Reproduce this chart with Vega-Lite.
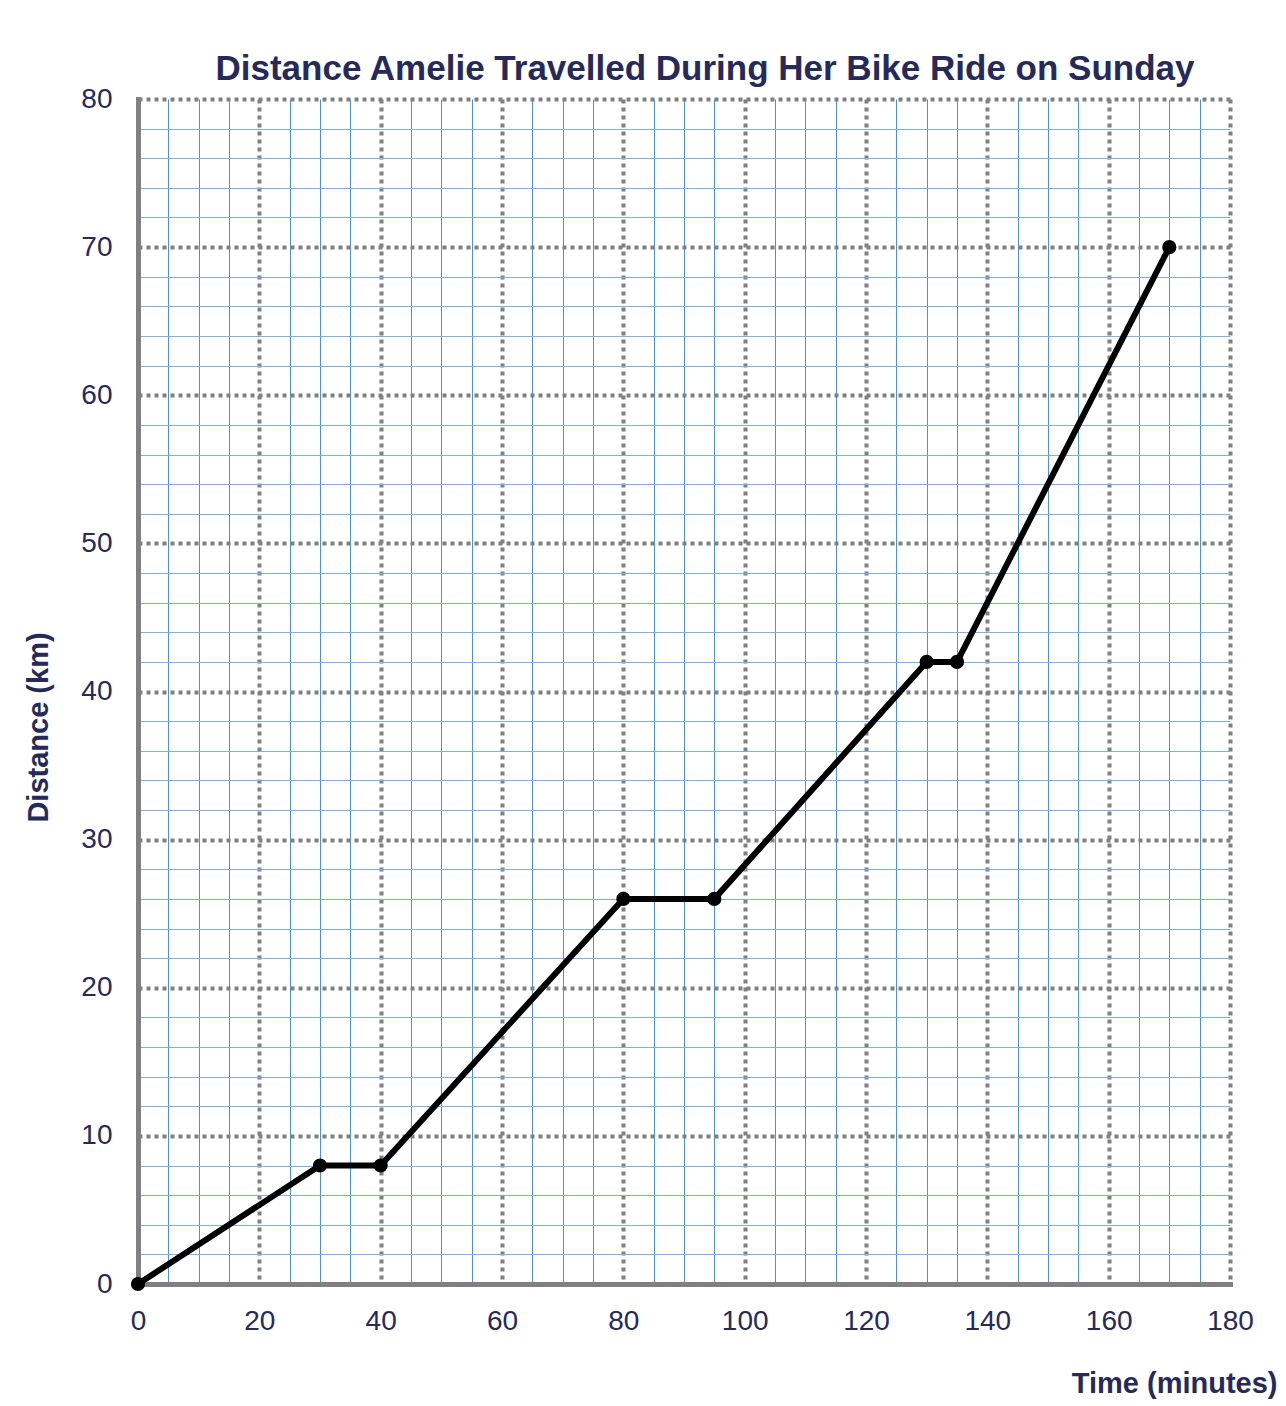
{
  "$schema": "https://vega.github.io/schema/vega-lite/v6.json",
  "width": 1092,
  "height": 1185,
  "autosize": {"type": "none"},
  "padding": {"left": 138, "top": 99, "right": 56, "bottom": 122},
  "background": "white",
  "title": {
    "text": "Distance Amelie Travelled During Her Bike Ride on Sunday",
    "font": "Liberation Sans",
    "fontSize": 35,
    "fontWeight": "bold",
    "color": "#262a5a",
    "anchor": "middle",
    "frame": "group",
    "dx": 21,
    "baseline": "alphabetic",
    "offset": -30
  },
  "data": {
    "values": [
      {"time": 0, "distance": 0},
      {"time": 30, "distance": 8},
      {"time": 40, "distance": 8},
      {"time": 80, "distance": 26},
      {"time": 95, "distance": 26},
      {"time": 130, "distance": 42},
      {"time": 135, "distance": 42},
      {"time": 170, "distance": 70}
    ]
  },
  "layer": [
    {
      "mark": {"type": "line", "opacity": 0},
      "encoding": {
        "x": {
          "field": "time", "type": "quantitative",
          "scale": {"domain": [0, 180], "nice": false},
          "axis": {
            "values": [5,10,15,25,30,35,45,50,55,65,70,75,85,90,95,105,110,115,125,130,135,145,150,155,165,170,175],
            "grid": true, "gridColor": "#4a8ef0", "gridWidth": 1, "gridOpacity": 1,
            "labels": false, "ticks": false, "domain": false, "title": null, "orient": "bottom"
          }
        },
        "y": {
          "field": "distance", "type": "quantitative",
          "scale": {"domain": [0, 80], "nice": false},
          "axis": {
            "values": [2,4,6,8,12,14,16,18,22,24,26,28,32,34,36,38,42,44,46,48,52,54,56,58,62,64,66,68,72,74,76,78],
            "grid": true, "gridColor": "#7aaef5", "gridWidth": 1, "gridOpacity": 1,
            "labels": false, "ticks": false, "domain": false, "title": null, "orient": "left"
          }
        }
      }
    },
    {
      "mark": {"type": "line", "color": "black", "strokeWidth": 6},
      "encoding": {
        "x": {
          "field": "time", "type": "quantitative",
          "scale": {"domain": [0, 180], "nice": false},
          "axis": {
            "values": [0,20,40,60,80,100,120,140,160,180],
            "grid": true, "gridColor": "#808080", "gridWidth": 4, "gridDash": [4, 4], "gridOpacity": 1,
            "domain": true, "domainColor": "#808080", "domainWidth": 5, "domainCap": "square",
            "ticks": false, "tickSize": 0,
            "labelFont": "Liberation Sans", "labelFontSize": 28, "labelColor": "#262a5a", "labelPadding": 23,
            "labelFlush": false, "labelOverlap": false, "labelBound": false,
            "title": "Time (minutes)",
            "titleFont": "Liberation Sans", "titleFontSize": 29, "titleFontWeight": "bold", "titleColor": "#262a5a",
            "titleX": 1139, "titleY": 108, "titleAlign": "right", "titleBaseline": "alphabetic",
            "orient": "bottom"
          }
        },
        "y": {
          "field": "distance", "type": "quantitative",
          "scale": {"domain": [0, 80], "nice": false},
          "axis": {
            "values": [0,10,20,30,40,50,60,70,80],
            "grid": true, "gridColor": "#808080", "gridWidth": 4, "gridDash": [4, 4], "gridOpacity": 1,
            "domain": true, "domainColor": "#808080", "domainWidth": 5, "domainCap": "square",
            "ticks": false, "tickSize": 0,
            "labelFont": "Liberation Sans", "labelFontSize": 28, "labelColor": "#262a5a", "labelPadding": 26,
            "labelFlush": false, "labelOverlap": false, "labelBound": false,
            "title": "Distance (km)",
            "titleFont": "Liberation Sans", "titleFontSize": 29, "titleFontWeight": "bold", "titleColor": "#262a5a",
            "titleX": -100, "titleY": 628, "titleAngle": -90, "titleAlign": "center", "titleBaseline": "middle",
            "orient": "left"
          }
        }
      }
    },
    {
      "mark": {"type": "point", "filled": true, "color": "black", "size": 200, "opacity": 1},
      "encoding": {
        "x": {"field": "time", "type": "quantitative", "scale": {"domain": [0, 180], "nice": false}, "axis": null},
        "y": {"field": "distance", "type": "quantitative", "scale": {"domain": [0, 80], "nice": false}, "axis": null}
      }
    }
  ],
  "resolve": {"axis": {"x": "independent", "y": "independent"}},
  "config": {"view": {"stroke": null}}
}
